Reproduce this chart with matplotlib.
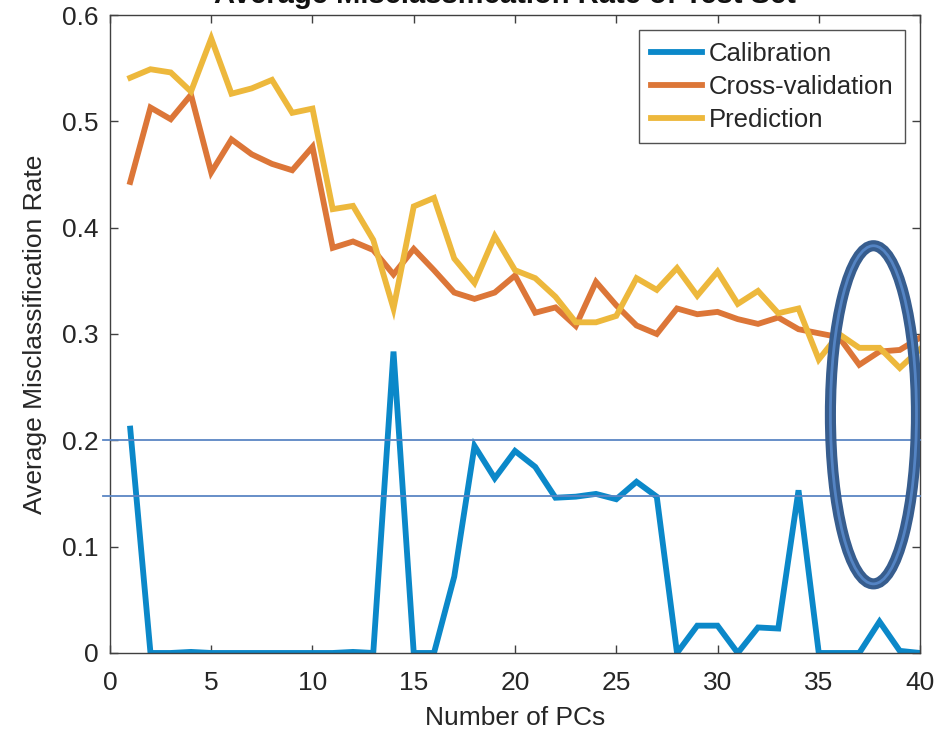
import matplotlib
matplotlib.use("Agg")
import matplotlib.pyplot as plt
from matplotlib.patches import Ellipse
import numpy as np

plt.rcParams['font.family'] = ['Liberation Sans', 'DejaVu Sans']

pcs = list(range(1, 41))
calibration = [0.211, 0.0, 0.0, 0.001, 0.0, 0.0, 0.0, 0.0, 0.0, 0.0,
               0.0, 0.001, 0.0, 0.2835, 0.0, 0.0, 0.0718, 0.1947, 0.1643, 0.190,
               0.175, 0.146, 0.147, 0.1496, 0.1446, 0.161, 0.147, 0.0, 0.0257, 0.0257,
               0.0, 0.024, 0.023, 0.153, 0.0, 0.0, 0.0, 0.0295, 0.002, 0.0]
cross_validation = [0.443, 0.513, 0.502, 0.525, 0.452, 0.483, 0.469, 0.460, 0.454, 0.476,
                    0.381, 0.387, 0.379, 0.356, 0.380, 0.360, 0.339, 0.333, 0.339, 0.355,
                    0.320, 0.325, 0.3076, 0.349, 0.327, 0.308, 0.300, 0.324, 0.3186, 0.3208,
                    0.314, 0.3095, 0.3155, 0.3045, 0.3007, 0.297, 0.271, 0.2835, 0.285, 0.2966]
prediction = [0.541, 0.549, 0.546, 0.528, 0.578, 0.526, 0.531, 0.539, 0.508, 0.512,
              0.4174, 0.4205, 0.3885, 0.324, 0.420, 0.428, 0.371, 0.348, 0.392, 0.360,
              0.3525, 0.335, 0.311, 0.311, 0.317, 0.3525, 0.3415, 0.362, 0.336, 0.3587,
              0.3283, 0.3405, 0.3195, 0.324, 0.276, 0.300, 0.287, 0.287, 0.268, 0.2857]
series_names = ['Calibration', 'Cross-validation', 'Prediction']
ref_levels = [0.2, 0.148]
title_text = 'Average Misclassification Rate of Test Set'

fig = plt.figure(figsize=(9.53, 7.4), dpi=100)
ax = fig.add_axes([0.1154, 0.1176, 0.85, 0.8621])

c_blue = '#0b88c9'
c_orange = '#dc7638'
c_yellow = '#edb83c'

ax.plot(pcs, calibration, color=c_blue, lw=4.2, label=series_names[0], solid_joinstyle='miter')
ax.plot(pcs, cross_validation, color=c_orange, lw=4.2, label=series_names[1], solid_joinstyle='miter')
ax.plot(pcs, prediction, color=c_yellow, lw=4.2, label=series_names[2], solid_joinstyle='miter')

for lv in ref_levels:
    ax.plot([-0.008, 1.0], [lv, lv], transform=ax.get_yaxis_transform(),
            color='#5b86c4', lw=1.3, clip_on=False, zorder=3)

ell_outer = Ellipse((37.7, 0.224), 4.25, 0.318, fill=False, edgecolor='#375d8e', lw=8, zorder=4)
ell_inner = Ellipse((37.7, 0.224), 4.25, 0.318, fill=False, edgecolor='#5484c4', lw=2, zorder=5)
ax.add_patch(ell_outer)
ax.add_patch(ell_inner)

ax.set_xlim(0, 40)
ax.set_ylim(0, 0.6)
ax.set_xticks(range(0, 41, 5))
ax.set_yticks([0, 0.1, 0.2, 0.3, 0.4, 0.5, 0.6])
ax.set_yticklabels(['0', '0.1', '0.2', '0.3', '0.4', '0.5', '0.6'])
ax.tick_params(direction='in', length=6, width=1, top=True, right=True,
               labelsize=19, colors='#404040', labelcolor='#262626')
ax.tick_params(axis='x', pad=13)
ax.tick_params(axis='y', pad=8)
for s in ax.spines.values():
    s.set_color('#404040')
    s.set_linewidth(1)

ax.set_xlabel('Number of PCs', fontsize=19, color='#262626', labelpad=8)
ax.set_ylabel('Average Misclassification Rate', fontsize=19, color='#262626', labelpad=11)

fig.text(0.53, 1.0 - 3 / 740, title_text, ha='center', va='baseline',
         fontsize=21, fontweight='bold', color='#111111')

leg = ax.legend(loc='upper right', bbox_to_anchor=(0.9815, 0.976), fontsize=18.5,
                frameon=True, fancybox=False, edgecolor='#262626', handlelength=2.0,
                handletextpad=0.25, borderpad=0.45, labelspacing=0.35, borderaxespad=0)
leg.get_frame().set_linewidth(1)
for t in leg.get_texts():
    t.set_color('#262626')

fig.savefig('out.png', dpi=100)
